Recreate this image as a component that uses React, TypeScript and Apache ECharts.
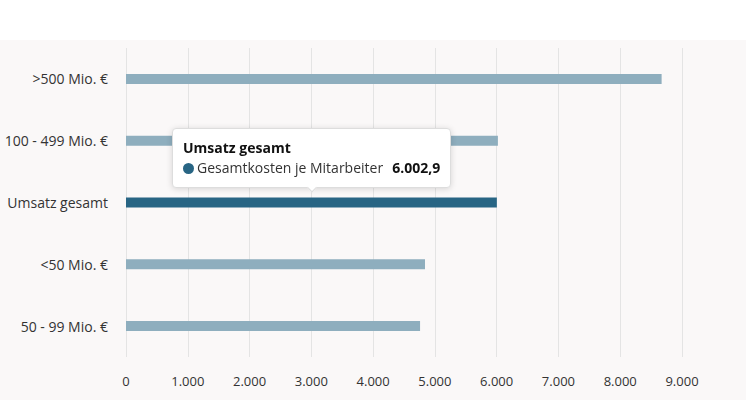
import React, { useEffect, useRef } from "react";
import * as echarts from "echarts";

const categories = [">500 Mio. €", "100 - 499 Mio. €", "Umsatz gesamt", "<50 Mio. €", "50 - 99 Mio. €"];
const values = [8670, 6020, 6002.9, 4840, 4760];
const highlightIndex = 2;
const seriesName = "Gesamtkosten je Mitarbeiter";

const FONT = "'Open Sans', 'Noto Sans', sans-serif";
const LIGHT = "#8eaebe";
const DARK = "#286584";

function fmtDe(v: number, decimals: number): string {
  const fixed = v.toFixed(decimals);
  const [intPart, dec] = fixed.split(".");
  const withSep = intPart.replace(/\B(?=(\d{3})+(?!\d))/g, ".");
  return dec ? withSep + "," + dec : withSep;
}

export default function App() {
  const ref = useRef<HTMLDivElement>(null);
  useEffect(() => {
    if (!ref.current) return;
    const chart = echarts.init(ref.current, undefined, { renderer: "svg" });
    chart.setOption({
      animation: false,
      backgroundColor: "#ffffff",
      textStyle: { fontFamily: FONT },
      graphic: [
        {
          type: "rect",
          silent: true,
          z: -10,
          shape: { x: 0, y: 40, width: 746, height: 360 },
          style: { fill: "#faf8f8" },
        },
      ],
      grid: { left: 126, right: 64, top: 48, bottom: 43, containLabel: false },
      tooltip: {
        trigger: "item",
        position: "top",
        alwaysShowContent: true,
        showDelay: 0,
        transitionDuration: 0,
        backgroundColor: "#ffffff",
        borderColor: "#dddddd",
        borderWidth: 1,
        padding: [9, 10, 9, 10],
        extraCssText: "box-shadow: 0 1px 6px rgba(0,0,0,0.15); border-radius: 4px;",
        formatter: (p: any) => {
          const marker = `<span style="display:inline-block;width:11px;height:11px;border-radius:50%;background:${DARK};margin-right:3px;vertical-align:-1px"></span>`;
          return `<div style="font-family:${FONT.replace(/'/g, "")};font-weight:bold;font-size:14px;color:#111;line-height:20px">${p.name}</div>` +
            `<div style="font-family:${FONT.replace(/'/g, "")};font-size:14px;line-height:20px;color:#333">${marker}${seriesName}<span style="font-weight:bold;margin-left:9px;color:#111">${fmtDe(p.value, 1)}</span></div>`;
        },
      },
      xAxis: {
        type: "value",
        min: 0,
        max: 9000,
        interval: 1000,
        axisLine: { show: false },
        axisTick: { show: false },
        splitLine: { show: true, lineStyle: { color: "#e4e4e4", width: 1 } },
        axisLabel: {
          color: "#333333",
          fontSize: 13,
          fontFamily: FONT,
          margin: 17,
          formatter: (v: number) => fmtDe(v, 0),
        },
      },
      yAxis: {
        type: "category",
        data: categories,
        inverse: true,
        axisLine: { show: false },
        axisTick: { show: false },
        splitLine: { show: false },
        axisLabel: { color: "#333333", fontSize: 14, fontFamily: FONT, margin: 18 },
      },
      series: [
        {
          type: "bar",
          name: seriesName,
          barWidth: 10,
          data: values.map((v, i) => ({
            value: v,
            itemStyle: { color: i === highlightIndex ? DARK : LIGHT },
          })),
          emphasis: { disabled: true },
        },
      ],
    });
    chart.dispatchAction({ type: "showTip", seriesIndex: 0, dataIndex: highlightIndex });
    return () => chart.dispose();
  }, []);
  return (
    <div style={{ position: "fixed", left: 0, top: 0, width: 746, height: 400 }}>
      <div ref={ref} style={{ width: 746, height: 400 }} />
    </div>
  );
}
